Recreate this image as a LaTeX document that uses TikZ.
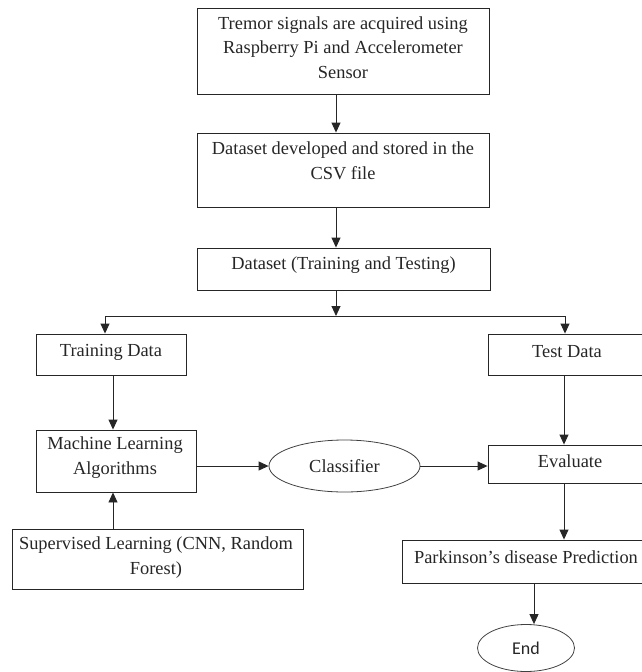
\documentclass[tikz,border=0pt]{standalone}
\usepackage{fontspec}
\setmainfont{Liberation Serif}
\newfontfamily\endfont{Carlito}
\usetikzlibrary{arrows.meta,shapes.geometric}
\begin{document}
\begin{tikzpicture}[x=1pt,y=-1pt,
  box/.style={draw=black!85, line width=0.9pt, inner sep=0pt},
  txt/.style={font=\fontsize{18.4}{24.5}\selectfont, align=center, inner sep=0pt, text=black!85},
  arr/.style={draw=black!85, line width=0.9pt, -{Triangle[length=10pt,width=9pt]}},
  oval/.style={draw=black!75, ellipse, line width=0.8pt, inner sep=0pt}]
\useasboundingbox (0,0) rectangle (642,672);
% boxes
\node[box, minimum width=292pt, minimum height=86pt] (b1) at (343,51) {};
\node[txt] (t1) at (343,47.5) {Tremor signals are acquired using\\Raspberry Pi and Accelerometer\\Sensor};
\node[box, minimum width=292pt, minimum height=74pt] (b2) at (343,170) {};
\node[txt] (t2) at (343,161) {Dataset developed and stored in the\\CSV file};
\node[box, minimum width=293pt, minimum height=42pt] (b3) at (343.5,269) {};
\node[txt] (t3) at (343.5,265) {Dataset (Training and Testing)};
\node[box, minimum width=150pt, minimum height=41pt] (train) at (111,354.5) {};
\node[txt] (t4) at (111,352) {Training Data};
\node[box, minimum width=157pt, minimum height=41pt] (test) at (566.5,354.5) {};
\node[txt] (t5) at (567,352) {Test Data};
\node[box, minimum width=160pt, minimum height=62pt] (ml) at (116,461) {};
\node[txt] (t6) at (115,457.5) {Machine Learning\\Algorithms};
\node[box, minimum width=291pt, minimum height=60pt] (sup) at (157.5,559) {};
\node[txt] (t7) at (156,557.5) {Supervised Learning (CNN, Random\\Forest)};
\node[oval, minimum width=151pt, minimum height=52pt, font=\fontsize{18.4}{20}\selectfont, text=black!85] (cls) at (344.5,466) {Classifier};
\node[box, minimum width=157pt, minimum height=38pt] (eval) at (566.5,464) {};
\node[txt] (t8) at (570,461) {Evaluate};
\node[box, minimum width=243pt, minimum height=43pt] (park) at (523.5,561.5) {};
\node[txt] (t9) at (526,557) {Parkinson’s disease Prediction};
\node[oval, minimum width=97pt, minimum height=47pt, font=\endfont\fontsize{18}{20}\selectfont, text=black!85] (end) at (526,648) {End};
% guide coordinates
\coordinate (cx) at (336,0);
\coordinate (lx) at (113,0);
\coordinate (rx) at (564,0);
\coordinate (ex) at (534,0);
\coordinate (br) at (336,316);
\coordinate (bl) at (105,316);
\coordinate (bq) at (565,316);
% connectors
\draw[arr] (b1.south -| cx) -- (b2.north -| cx);
\draw[arr] (b2.south -| cx) -- (b3.north -| cx);
\draw[arr] (b3.south -| cx) -- (br);
\draw[draw=black!85, line width=0.9pt] (bl) -- (bq);
\draw[arr] (bl) -- (train.north -| bl);
\draw[arr] (bq) -- (test.north -| bq);
\draw[arr] (train.south -| lx) -- (ml.north -| lx);
\draw[arr] (sup.north -| lx) -- (ml.south -| lx);
\draw[arr] (ml.east |- cls.west) -- (cls.west);
\draw[arr] (cls.east) -- (eval.west |- cls.east);
\draw[arr] (test.south -| rx) -- (eval.north -| rx);
\draw[arr] (eval.south -| rx) -- (park.north -| rx);
\draw[arr] (park.south -| ex) -- (end.north -| ex);
\end{tikzpicture}
\end{document}
